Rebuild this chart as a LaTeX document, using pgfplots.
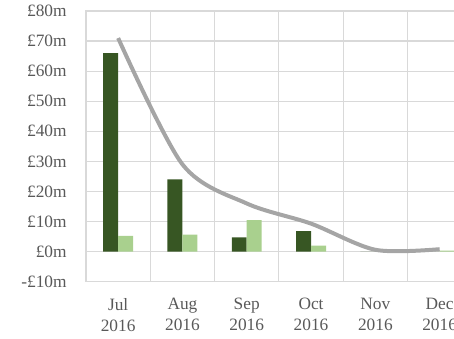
\documentclass[border=0pt]{standalone}
\usepackage{fontspec}
\setmainfont{Liberation Serif}
\usepackage{pgfplots}
\pgfplotsset{compat=1.18}
\definecolor{darkg}{HTML}{375623}
\definecolor{lightg}{HTML}{A9D08E}
\definecolor{lineg}{HTML}{A5A5A5}
\definecolor{gridc}{HTML}{D9D9D9}
\definecolor{txt}{HTML}{595959}
\begin{document}
\begin{tikzpicture}
\begin{axis}[
  at={(64.5pt,43pt)}, anchor=south west,
  scale only axis, width=289.35pt, height=203pt,
  xmin=-0.5, xmax=5.5, ymin=-10, ymax=80,
  ybar=0pt, bar width=0.233,
  xtick={0,1,2,3,4,5},
  xticklabels={Jul\\2016,Aug\\2016,Sep\\2016,Oct\\2016,Nov\\2016,Dec\\2016},
  xticklabel style={align=center, font=\fontsize{13}{15.75}\selectfont, color=txt, yshift=-9pt},
  minor xtick={-0.5,0.5,1.5,2.5,3.5,4.5,5.5},
  xminorgrids=true, ymajorgrids=true,
  ytick={-10,0,10,20,30,40,50,60,70,80},
  yticklabels={-£10m,£0m,£10m,£20m,£30m,£40m,£50m,£60m,£70m,£80m},
  yticklabel style={font=\fontsize{13}{15}\selectfont, color=txt, xshift=-11pt},
  major tick length=0pt, minor tick length=0pt,
  grid style={gridc, line width=0.9pt},
  minor grid style={gridc, line width=0.9pt},
  axis line style={gridc, line width=0.9pt},
  /pgf/number format/assume math mode=true,
  clip=false,
]
\addplot[fill=darkg, draw=none] coordinates {(0,66) (1,24) (2,4.7) (3,6.8) (4,0) (5,0)};
\addplot[fill=lightg, draw=none] coordinates {(0,5.2) (1,5.6) (2,10.5) (3,2) (4,0.3) (5,0.3)};
\addplot[sharp plot, smooth, lineg, line width=3pt, mark=none] coordinates {(0,71) (1,29) (2,16) (3,9.3) (4,0.6) (5,0.8)};
\end{axis}
\pgfresetboundingbox
\path[use as bounding box] (0,0) rectangle (340.5pt,254.25pt);
\end{tikzpicture}
\end{document}
